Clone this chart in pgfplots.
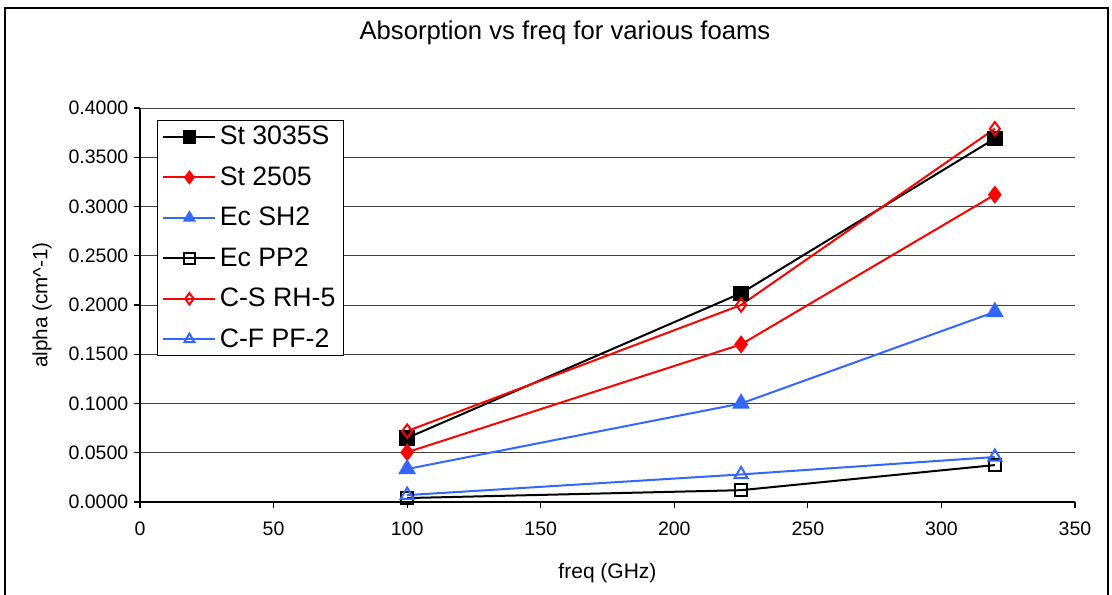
\documentclass[border=0pt]{standalone}
\usepackage{pgfplots}
\pgfplotsset{compat=1.18}
\usepackage{fontspec}
\setmainfont{Liberation Sans}
\definecolor{myblue}{RGB}{51,102,255}
\begin{document}
\begin{tikzpicture}[x=0.6pt,y=0.6pt]
\useasboundingbox (0,0) rectangle (1112,594);
\draw[line width=0.9pt] (5,-20) -- (5,586) -- (1108,586) -- (1108,-20);
\begin{axis}[
  at={(84pt,55.2pt)}, anchor=south west,
  scale only axis, width=561pt, height=236.4pt,
  xmin=0, xmax=350, ymin=0, ymax=0.4,
  xtick={0,50,...,350}, ytick={0,0.05,...,0.4},
  axis x line*=bottom, axis y line*=left,
  axis line style={black, line width=0.7pt, -},
  tick align=outside, major tick length=3.5pt,
  tick style={black, line width=0.7pt},
  ymajorgrids, grid style={black!75, line width=0.6pt},
  yticklabel style={/pgf/number format/.cd, fixed, fixed zerofill, precision=4},
  xticklabel style={yshift=-5pt},
  /pgf/number format/assume math mode=true,
  ticklabel style={font=\fontsize{11.7}{14}\selectfont},
  title={Absorption vs freq for various foams},
  title style={at={(axis description cs:0.4545,1.165)}, anchor=center, yshift=0pt, font=\fontsize{15.4}{18}\selectfont},
  xlabel={freq (GHz)},
  xlabel style={at={(axis description cs:0.5,-0.18)}, anchor=center, font=\fontsize{12.6}{15}\selectfont},
  ylabel={alpha (cm\textasciicircum-1)},
  ylabel style={at={(axis description cs:-0.1048,0.5)}, anchor=center, rotate=0, font=\fontsize{12.4}{15}\selectfont},
  legend style={at={(axis description cs:0.018,0.9695)}, anchor=north west,
    draw=black, line width=0.6pt, fill=white, font=\fontsize{16}{19}\selectfont,
    row sep=7.6pt, inner xsep=3pt, inner ysep=1.5pt,
    nodes={inner sep=2pt}},
  legend cell align=left,
  legend image code/.code={\draw[#1, mark size=3.4pt] (0cm,0cm) -- (1.1cm,0cm); \draw[#1, mark size=3.4pt] plot coordinates {(0.55cm,0cm)};},
  every axis plot/.append style={line width=1.2pt},
]
\addplot[black, mark=square*, mark size=4pt, mark options={solid, fill=black}] coordinates {(100,0.065) (225,0.212) (320,0.369)};
\addlegendentry{St 3035S}
\addplot[red, mark=diamond*, mark size=4.5pt, mark options={solid, fill=red}] coordinates {(100,0.0505) (225,0.160) (320,0.312)};
\addlegendentry{St 2505}
\addplot[myblue, mark=triangle*, mark size=5pt, mark options={solid, fill=myblue}] coordinates {(100,0.0335) (225,0.100) (320,0.193)};
\addlegendentry{Ec SH2}
\addplot[black, mark=square, mark size=3.5pt, mark options={solid, fill=white}] coordinates {(100,0.004) (225,0.012) (320,0.0375)};
\addlegendentry{Ec PP2}
\addplot[red, mark=diamond, mark size=4pt, mark options={solid, fill=white}] coordinates {(100,0.072) (225,0.200) (320,0.379)};
\addlegendentry{C-S RH-5}
\addplot[myblue, mark=triangle, mark size=4.5pt, mark options={solid, fill=white}] coordinates {(100,0.007) (225,0.028) (320,0.0457)};
\addlegendentry{C-F PF-2}
\end{axis}
\end{tikzpicture}
\end{document}
